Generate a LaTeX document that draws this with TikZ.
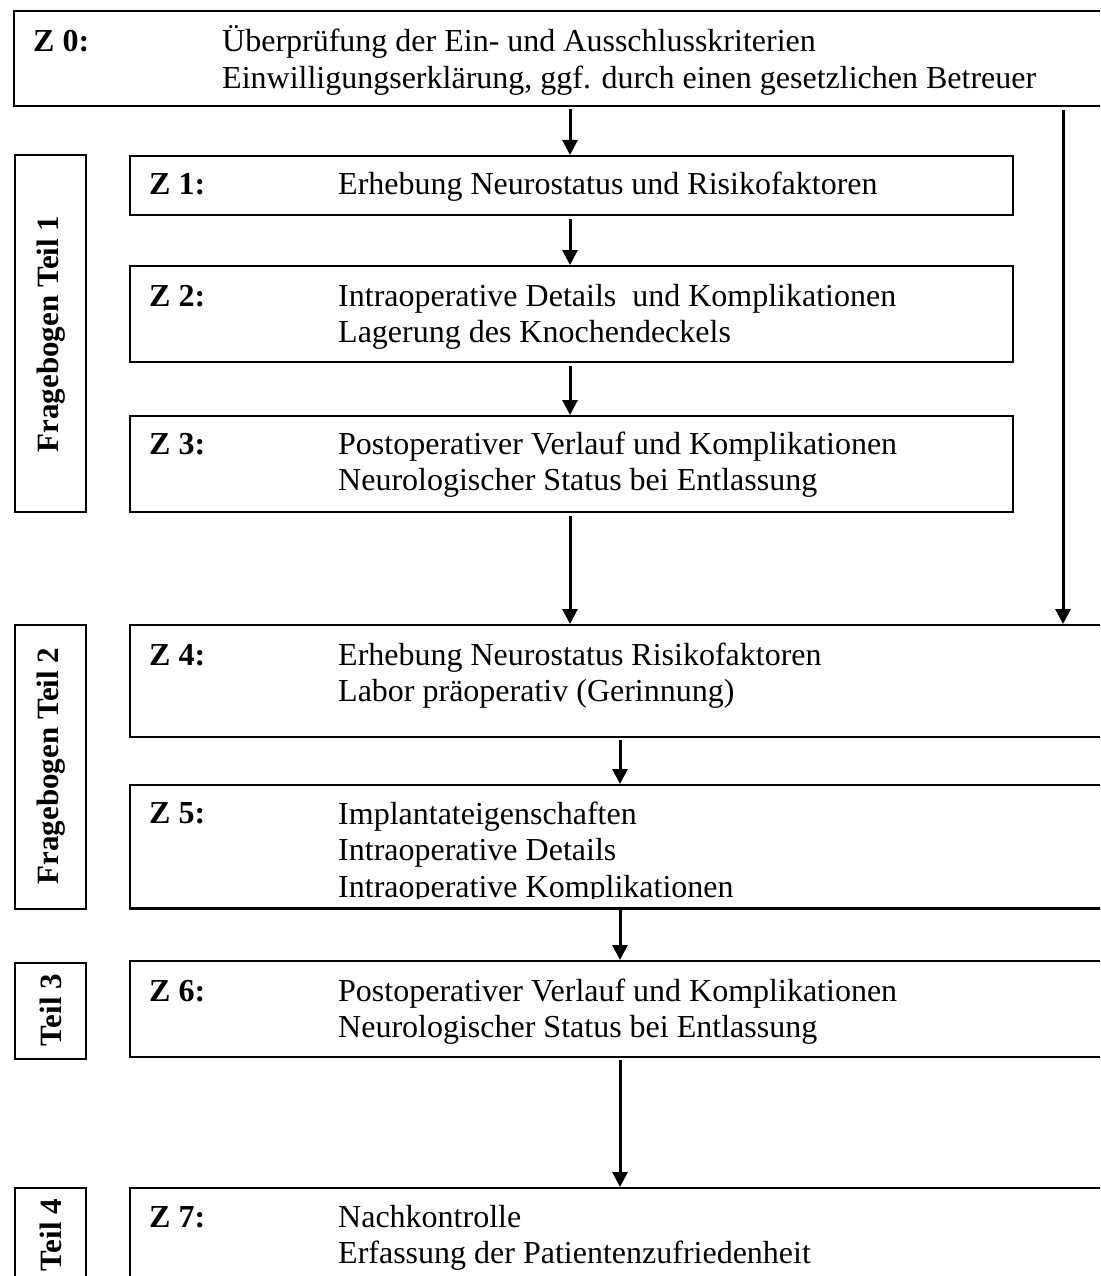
\documentclass[tikz,border=0pt]{standalone}
\usepackage{fontspec}
\setmainfont{Liberation Serif}
\usetikzlibrary{arrows.meta}
\begin{document}
\begin{tikzpicture}[x=1pt,y=-1pt,
  box/.style={draw,line width=2pt,rectangle,inner sep=0pt,anchor=north west},
  lbl/.style={anchor=base west,inner sep=0pt,font=\fontsize{32}{36.5}\selectfont\bfseries},
  txt/.style={anchor=base west,inner sep=0pt,align=left,font=\fontsize{32}{36.5}\selectfont},
  vlbl/.style={rotate=90,inner sep=0pt,font=\fontsize{31}{35}\selectfont\bfseries},
  arr/.style={line width=3pt,-{Triangle[width=15pt,length=15pt]}}]
\useasboundingbox (0,0) rectangle (1100,1276);
\clip (0,0) rectangle (1100,1276);
% boxes
\node[box,minimum width=1100pt,minimum height=95pt] (z0) at (13,10) {};
\node[box,minimum width=883pt,minimum height=59pt] (z1) at (129,155) {};
\node[box,minimum width=883pt,minimum height=96pt] (z2) at (129,265) {};
\node[box,minimum width=883pt,minimum height=96pt] (z3) at (129,415) {};
\node[box,minimum width=990pt,minimum height=112pt] (z4) at (129,624) {};
\node[box,minimum width=990pt,minimum height=124pt] (z5) at (129,784) {};
\node[box,minimum width=990pt,minimum height=96pt] (z6) at (129,960) {};
\node[box,minimum width=990pt,minimum height=120pt] (z7) at (129,1187) {};
% side labels
\node[box,minimum width=71pt,minimum height=357pt] (f1) at (14,154) {};
\node[box,minimum width=71pt,minimum height=284pt] (f2) at (14,624) {};
\node[box,minimum width=71pt,minimum height=96pt] (f3) at (14,962) {};
\node[box,minimum width=71pt,minimum height=120pt] (f4) at (14,1187) {};
\node[vlbl] (f1t) at (51,334) {Fragebogen Teil 1};
\node[vlbl] (f2t) at (51,766) {Fragebogen Teil 2};
\node[vlbl] (f3t) at (51,1010) {Teil 3};
\node[vlbl] (f4t) at (51,1235) {Teil 4};
% texts (base west = baseline of last line)
\node[lbl] (l0) at (33,52) {Z 0:};
\node[txt] (t0) at (222,88.5) {Überprüfung der Ein- und Ausschlusskriterien\\Einwilligungserklärung, ggf. durch einen gesetzlichen Betreuer};
\node[lbl] (l1) at (149,195) {Z 1:};
\node[txt] (t1) at (338,195) {Erhebung Neurostatus und Risikofaktoren};
\node[lbl] (l2) at (149,306) {Z 2:};
\node[txt] (t2) at (338,342.5) {Intraoperative Details\ \ und Komplikationen\\Lagerung des Knochendeckels};
\node[lbl] (l3) at (149,454) {Z 3:};
\node[txt] (t3) at (338,490.5) {Postoperativer Verlauf und Komplikationen\\Neurologischer Status bei Entlassung};
\node[lbl] (l4) at (149,665) {Z 4:};
\node[txt] (t4) at (338,701.5) {Erhebung Neurostatus Risikofaktoren\\Labor präoperativ (Gerinnung)};
\node[lbl] (l5) at (149,823) {Z 5:};
\begin{scope}
\clip (129,784) rectangle (1100,898);
\node[txt] (t5) at (338,897) {Implantateigenschaften\\Intraoperative Details\\Intraoperative Komplikationen};
\end{scope}
\draw[line width=2pt] (129,908) -- (1100,908);
\node[lbl] (l6) at (149,1001) {Z 6:};
\node[txt] (t6) at (338,1037.5) {Postoperativer Verlauf und Komplikationen\\Neurologischer Status bei Entlassung};
\node[lbl] (l7) at (149,1227) {Z 7:};
\node[txt] (t7) at (338,1263.5) {Nachkontrolle\\Erfassung der Patientenzufriedenheit};
% arrows
\draw[arr] (z0.south -| 570,0) ++(0,2) -- (z1.north -| 570,0);
\draw[arr] (z1.south -| 570,0) ++(0,3) -- (z2.north -| 570,0);
\draw[arr] (z2.south -| 570,0) ++(0,3) -- (z3.north -| 570,0);
\draw[arr] (z3.south -| 570,0) ++(0,3) -- (z4.north -| 570,0);
\draw[arr] (z0.south -| 1063,0) ++(0,3) -- (z4.north -| 1063,0);
\draw[arr] (z4.south -| 620,0) ++(0,2) -- (z5.north -| 620,0);
\draw[arr] (z5.south -| 620,0) -- (z6.north -| 620,0);
\draw[arr] (z6.south -| 620,0) ++(0,2) -- (z7.north -| 620,0);
\end{tikzpicture}
\end{document}
